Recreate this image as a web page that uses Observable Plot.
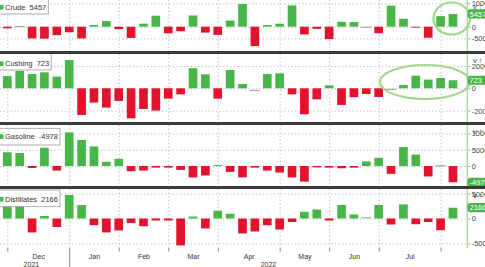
<!DOCTYPE html>
<html><head><meta charset="utf-8">
<script src="https://cdn.jsdelivr.net/npm/d3@7"></script>
<script src="https://cdn.jsdelivr.net/npm/@observablehq/plot@0.6"></script>
<style>
html,body{margin:0;padding:0;background:#fff;}
body{width:485px;height:267px;overflow:hidden;font-family:"Liberation Sans",Arial,sans-serif;}
.sep{height:3px;background:#3a3a3a;width:485px;}
svg{display:block;}
</style></head><body><div id="chart"></div>
<script>
// Weekly EIA inventory changes (thousand barrels), week ending dates
const weeks = ["2021-11-26","2021-12-03","2021-12-10","2021-12-17","2021-12-24","2021-12-31",
"2022-01-07","2022-01-14","2022-01-21","2022-01-28","2022-02-04","2022-02-11","2022-02-18","2022-02-25",
"2022-03-04","2022-03-11","2022-03-18","2022-03-25","2022-04-01","2022-04-08","2022-04-15","2022-04-22","2022-04-29",
"2022-05-06","2022-05-13","2022-05-20","2022-05-27","2022-06-03","2022-06-10","2022-06-17","2022-06-24",
"2022-07-01","2022-07-08","2022-07-15","2022-07-22","2022-07-29","2022-08-05"];

const crude = [-700,250,-5000,-5100,-3600,-2400,-5000,700,2400,-1000,-4800,1300,4700,-2800,-1900,4800,-2500,-3500,2600,9700,
-8300,700,1300,9100,-3300,-900,-5300,2100,2000,0,-2800,9000,3400,-400,-4700,4500,5457];
const cushing = [1100,1550,1280,1430,1050,2540,-2390,-1280,-1730,-1130,-2690,-1850,-2000,-930,-540,1800,1250,-930,1640,390,
-150,1280,1340,-540,-2330,-990,270,-1490,-800,-510,-780,-60,300,1130,780,930,723];
const gasoline = [4200,4000,-600,5600,-1400,10300,8000,6000,1300,2200,-1600,-1400,-500,-500,-1200,-3500,-2900,300,-1800,-3500,
-500,-1400,-2000,-3500,-4800,-400,-500,-700,-500,1400,2500,-2400,5800,3500,-3200,200,-4978];
const distillates = [2500,2700,-2800,500,-1700,4700,2700,-1350,-2800,-2400,-900,-1550,-400,-400,-5400,400,-2000,1550,950,-3000,
-2600,-1350,-2200,-700,1350,1800,-400,2700,800,250,2700,-1200,2850,-1150,-700,-2350,2166];

const seriesNames = ["Crude","Cushing","Gasoline","Distillates"];
const crudeTicks = [10000, 0, -5000];
const cushingTicks = [2000, 0, -2000];
const gasolineTicks = [10000, 5000, 0];
const distillatesTicks = [5000, 0, -5000];

const GREEN = "#48b548", RED = "#e2132c", AXIS = "#86c977", GRID = "#b8b8b8", RING = "#a3d78e";
const parse = d3.utcParse("%Y-%m-%d");
const dates = weeks.map(parse);
const X_DOMAIN = [-0.59, 37.11];
const boundaries = d3.range(dates.length - 1).filter(i => dates[i+1].getUTCMonth() !== dates[i].getUTCMonth());
const yearBoundary = d3.range(dates.length - 1).find(i => dates[i+1].getUTCFullYear() !== dates[i].getUTCFullYear());
const monthLabels = d3.range(boundaries.length - 1).map(k => ({
  pos: (boundaries[k] + boundaries[k+1]) / 2,
  text: d3.utcFormat("%b")(dates[boundaries[k] + 1])
}));
const yearLabels = [
  {pos: (X_DOMAIN[0] + yearBoundary) / 2 - 0.3, text: String(dates[0].getUTCFullYear())},
  {pos: (yearBoundary + X_DOMAIN[1]) / 2, text: String(dates[dates.length-1].getUTCFullYear())}
];

const FONT = '"Liberation Sans", Arial, sans-serif';
const chart = document.getElementById("chart");

const panels = [
  {name: seriesNames[0], values: crude, height: 51, domain: [-10385, 11410], ticks: crudeTicks,
   box: {y: -1, h: 15, ty: 7.3}, ring: {i: 35.9, v: 3500, rx: 18.3, ry: 16}},
  {name: seriesNames[1], values: cushing, height: 68, domain: [-3022, 3076], ticks: cushingTicks,
   box: {y: -1, h: 17, ty: 9.8}, ring: {i: 33.74, v: 565, rx: 45, ry: 17}},
  {name: seriesNames[2], values: gasoline, height: 61, domain: [-6135, 12577], ticks: gasolineTicks,
   box: {y: 3.3, h: 16.7, ty: 11.7}},
  {name: seriesNames[3], values: distillates, height: 59, domain: [-5924, 5924], ticks: distillatesTicks,
   box: {y: 1, h: 16.7, ty: 10.3}}
];

panels.forEach((p, k) => {
  const data = p.values.map((v, i) => ({i, v}));
  const small = d => Math.abs(d.v) < 260;
  const plot = Plot.plot({
    width: 485, height: p.height,
    marginLeft: 0, marginRight: 18.3, marginTop: 0, marginBottom: 0,
    x: {domain: X_DOMAIN, axis: null},
    y: {domain: p.domain, axis: null},
    style: {background: "white", fontFamily: FONT, fontSize: "7.5px", color: "#444"},
    marks: [
      Plot.ruleY(p.ticks, {stroke: GRID, strokeDasharray: "1.2,2.4"}),
      Plot.ruleX(boundaries, {stroke: GRID, strokeDasharray: "1.2,2.4"}),
      Plot.rectY(data, {filter: d => !small(d), x1: d => d.i - 0.35, x2: d => d.i + 0.35, y1: 0, y2: "v",
        fill: d => d.v > 0 ? GREEN : RED}),
      Plot.ruleY(data, {filter: small, x1: d => d.i - 0.4, x2: d => d.i + 0.4, y: "v", stroke: "#a8a8a8", strokeWidth: 1.2}),
      Plot.ruleX([X_DOMAIN[1]], {stroke: AXIS, strokeWidth: 1}),
      Plot.axisY({ticks: p.ticks, anchor: "right", tickSize: 3, tickPadding: 1.5, stroke: AXIS, fill: "#444",
        fontSize: 7.5, tickFormat: d => String(d)})
    ]
  });
  chart.appendChild(plot);
  const sx = plot.scale("x"), sy = plot.scale("y");
  const svg = d3.select(plot);
  const last = p.values[p.values.length - 1];
  // ring annotation
  if (p.ring) {
    svg.append("ellipse").attr("cx", sx.apply(p.ring.i)).attr("cy", sy.apply(p.ring.v))
      .attr("rx", p.ring.rx).attr("ry", p.ring.ry)
      .attr("fill", "none").attr("stroke", RING).attr("stroke-width", 2.2);
  }
  // value tag on the right axis
  const ty = sy.apply(last);
  svg.append("rect").attr("x", 467.5).attr("y", ty - 4.6).attr("width", 30).attr("height", 9.2).attr("rx", 3)
    .attr("fill", GREEN);
  svg.append("text").attr("x", 469.5).attr("y", ty).attr("dy", "0.35em").attr("fill", "white")
    .attr("text-anchor", "start")
    .attr("font-size", 7.5).attr("font-family", FONT).text(String(last));
  // legend box
  const g = svg.append("g");
  const box = g.append("rect").attr("x", -1).attr("y", p.box.y).attr("height", p.box.h)
    .attr("fill", "white").attr("stroke", "#9a9a9a").attr("stroke-width", 0.8);
  g.append("rect").attr("x", -1).attr("y", p.box.ty - 2.4).attr("width", 4.5).attr("height", 4.6).attr("fill", GREEN);
  const t = g.append("text").attr("x", 5).attr("y", p.box.ty).attr("dy", "0.35em").attr("fill", "#333")
    .attr("text-anchor", "start")
    .attr("font-size", 7.5).attr("font-family", FONT).text(p.name + "  " + String(last))
    .style("white-space", "pre");
  box.attr("width", t.node().getComputedTextLength() + 8);
  if (k < panels.length - 1) {
    const s = document.createElement("div"); s.className = "sep"; chart.appendChild(s);
  }
});

// bottom time axis
const axisPlot = Plot.plot({
  width: 485, height: 19, marginLeft: 0, marginRight: 18.3, marginTop: 0, marginBottom: 0,
  x: {domain: X_DOMAIN, axis: null},
  y: {domain: [0, 19], range: [0, 19], axis: null},
  style: {background: "white", fontFamily: FONT},
  marks: [
    Plot.ruleX(boundaries, {y1: 0, y2: d => d === yearBoundary ? 19 : 3.5, stroke: "#8a8a8a"}),
    Plot.text(monthLabels, {x: "pos", y: 8, text: "text", fontSize: 7, fill: "#333"}),
    Plot.text(yearLabels, {x: "pos", y: 16.3, text: "text", fontSize: 7, fill: "#333"})
  ]
});
chart.appendChild(axisPlot);
</script></body></html>
